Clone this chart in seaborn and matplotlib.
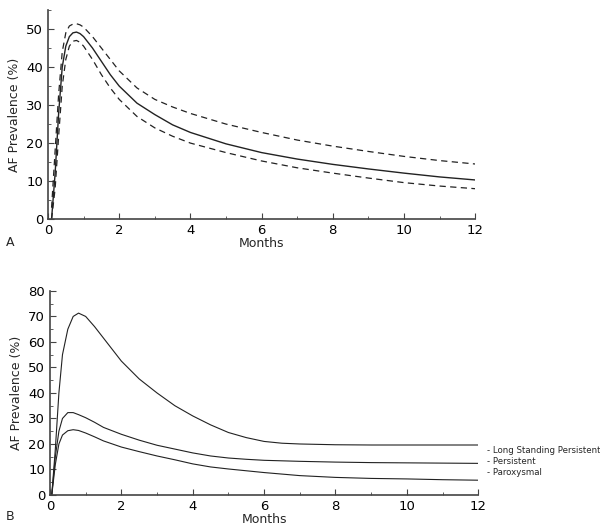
#!/usr/bin/env python3
import matplotlib
matplotlib.use('Agg')
import matplotlib.pyplot as plt
import numpy as np
import pandas as pd
import seaborn as sns
from matplotlib.ticker import MultipleLocator

# panel A: overall AF prevalence with dashed 95% band
MONTHS_A = [0.1, 0.2, 0.3, 0.4, 0.5, 0.6, 0.7, 0.8, 0.9, 1.0, 1.25, 1.5, 1.75,
            2, 2.5, 3, 3.5, 4, 5, 6, 7, 8, 9, 10, 11, 12]
MEAN_A = [0, 12, 28, 40, 45.5, 48, 49, 49.2, 48.8, 48, 45, 41.5, 38,
          35, 30.5, 27.5, 24.8, 22.8, 19.8, 17.5, 15.8, 14.4, 13.2, 12.1, 11.1, 10.3]
UPPER_A = [3, 18, 33, 44, 49, 50.8, 51.3, 51.4, 51.1, 50.5, 48, 45, 42,
           39, 34.5, 31.5, 29.5, 27.8, 25, 22.8, 20.8, 19.2, 17.8, 16.5, 15.4, 14.5]
LOWER_A = [0, 8, 22, 35, 42, 45.5, 46.8, 47, 46.5, 45.5, 42, 38, 34.5,
           31.5, 27, 24, 21.8, 20, 17.5, 15.3, 13.5, 12.1, 10.8, 9.6, 8.7, 8.0]

# panel B: by AF type
MONTHS_B = [0.05, 0.15, 0.25, 0.35, 0.5, 0.65, 0.8, 1.0, 1.25, 1.5, 2, 2.5, 3,
            3.5, 4, 4.5, 5, 5.5, 6, 6.5, 7, 8, 9, 10, 11, 12]
LONG_STANDING = [0, 18, 40, 55, 65, 70, 71.3, 70, 66, 61.5, 52.5, 45.5, 40,
                 35, 31, 27.5, 24.5, 22.5, 21, 20.3, 20, 19.7, 19.6, 19.6, 19.6, 19.6]
PERSISTENT = [0, 15, 25, 30, 32.3, 32.3, 31.5, 30.3, 28.5, 26.5, 23.8, 21.5, 19.5,
              18, 16.5, 15.3, 14.5, 14, 13.6, 13.4, 13.2, 12.9, 12.7, 12.6, 12.5, 12.4]
PAROXYSMAL = [0, 12, 20, 23.5, 25.2, 25.6, 25.3, 24.3, 22.8, 21.2, 18.8, 17, 15.3,
              13.8, 12.2, 11, 10.2, 9.5, 8.8, 8.2, 7.6, 6.9, 6.5, 6.3, 6.0, 5.8]
TYPE_LABELS = ['Long Standing Persistent', 'Persistent', 'Paroxysmal']

sns.set_style('ticks')
plt.rcParams['font.family'] = ['DejaVu Sans']
plt.rcParams.update({
    'font.size': 9,
    'xtick.direction': 'in',
    'ytick.direction': 'in',
    'axes.edgecolor': '#444444',
    'axes.linewidth': 1.2,
})

LINE = '#222222'


def style_axes(ax, ymax, ytop):
    sns.despine(ax=ax)
    ax.set_xlim(0, 12)
    ax.set_ylim(0, ytop)
    ax.set_xticks(range(0, 13, 2))
    ax.xaxis.set_minor_locator(MultipleLocator(1))
    ax.set_yticks(range(0, ymax + 1, 10))
    ax.yaxis.set_minor_locator(MultipleLocator(5))
    ax.tick_params(which='major', length=4, width=0.8, colors='#444444', labelcolor='black', labelsize=9.5)
    ax.tick_params(which='minor', length=2.5, width=0.6, colors='#444444')
    ax.set_ylabel('AF Prevalence (%)', fontsize=9)


fig = plt.figure(figsize=(6.0, 5.28), dpi=100)

# panel A
ax1 = fig.add_axes([0.08, 0.585, 0.712, 0.396])
df_a = pd.DataFrame({'month': MONTHS_A, 'mean': MEAN_A, 'upper': UPPER_A, 'lower': LOWER_A})
sns.lineplot(data=df_a, x='month', y='mean', color=LINE, linewidth=1.0, ax=ax1)
for col in ['upper', 'lower']:
    sns.lineplot(data=df_a, x='month', y=col, color=LINE, linewidth=0.9,
                 linestyle=(0, (5, 3.5)), ax=ax1)
style_axes(ax1, 50, 55)
ax1.set_xlabel('Months', fontsize=9, labelpad=0)
fig.text(0.01, 0.535, 'A', fontsize=9)

# panel B
ax2 = fig.add_axes([0.0833, 0.0625, 0.7137, 0.3865])
df_b = pd.DataFrame({
    'month': MONTHS_B * 3,
    'value': LONG_STANDING + PERSISTENT + PAROXYSMAL,
    'type': np.repeat(TYPE_LABELS, len(MONTHS_B)),
})
sns.lineplot(data=df_b, x='month', y='value', hue='type', units='type', estimator=None,
             palette=[LINE] * 3, linewidth=0.8, legend=False, ax=ax2)
style_axes(ax2, 80, 80)
ax2.set_xlabel('Months', fontsize=9, labelpad=0)
fig.text(0.01, 0.016, 'B', fontsize=9)

for i, label in enumerate(TYPE_LABELS):
    fig.text(0.812, 0.146 - i * 0.020, '- ' + label, fontsize=6.2, va='center')

fig.savefig('out.png', dpi=100)
